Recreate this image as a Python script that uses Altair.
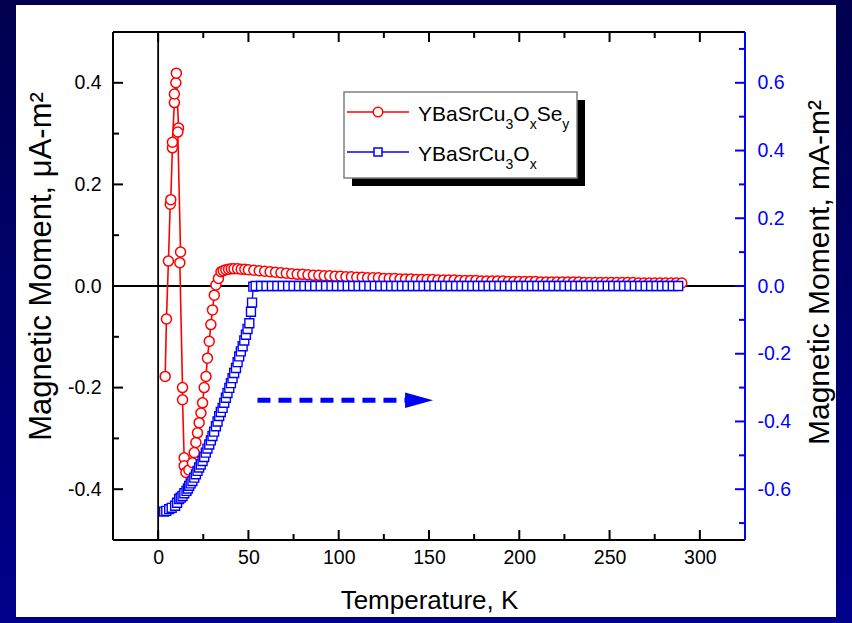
import altair as alt
import pandas as pd

# ---------------- data ----------------
# YBaSrCu3OxSey, left axis (uA-m^2), in measurement order
red_T = [3.9, 4.6, 5.7, 6.7, 7.0, 7.9, 7.9, 9.0, 9.0, 9.8,
         10.1, 11.3, 10.9, 12.4, 12.0, 13.5, 13.5, 14.4, 14.4, 15.4,
         17.0, 19.0, 20.0, 20.9, 21.8, 22.7, 23.7, 24.6, 25.5, 26.5,
         27.3, 28.3, 29.2, 30.1, 31.1, 32.0, 33.4, 34.8, 36.0, 37.5,
         39.0, 40.5, 42.0, 44.0, 46.0, 48.0, 50.0,
         53, 56, 59, 62, 65, 68, 71, 74, 77, 80,
         83, 86, 89, 92, 95, 98, 101, 104, 107, 110,
         113, 116, 119, 122, 125, 128, 131, 134, 137, 140,
         143, 146, 149, 152, 155, 158, 161, 164, 167, 170,
         173, 176, 179, 182, 185, 188, 191, 194, 197, 200,
         203, 206, 209, 212, 215, 218, 221, 224, 227, 230,
         233, 236, 239, 242, 245, 248, 251, 254, 257, 260,
         263, 266, 269, 272, 275, 278, 281, 284, 287, 290]
red_M = [-0.178, -0.065, 0.049, 0.161, 0.170, 0.272, 0.283, 0.361, 0.378, 0.400,
         0.419, 0.311, 0.303, 0.067, 0.046, -0.200, -0.224, -0.338, -0.354, -0.367,
         -0.362, -0.348, -0.328, -0.308, -0.289, -0.269, -0.250, -0.230, -0.200, -0.178,
         -0.142, -0.109, -0.076, -0.047, -0.018, 0.002, 0.015, 0.028, 0.030, 0.032,
         0.033, 0.034, 0.034, 0.034, 0.033, 0.033, 0.032,
         0.031, 0.030, 0.029, 0.028, 0.027, 0.026, 0.025, 0.024, 0.023, 0.023,
         0.022, 0.021, 0.021, 0.020, 0.020, 0.019, 0.019, 0.018, 0.018, 0.017,
         0.017, 0.016, 0.016, 0.016, 0.015, 0.015, 0.015, 0.014, 0.014, 0.014,
         0.013, 0.013, 0.013, 0.013, 0.012, 0.012, 0.012, 0.012, 0.011, 0.011,
         0.011, 0.011, 0.010, 0.010, 0.010, 0.010, 0.010, 0.009, 0.009, 0.009,
         0.009, 0.009, 0.009, 0.008, 0.008, 0.008, 0.008, 0.008, 0.008, 0.008,
         0.008, 0.007, 0.007, 0.007, 0.007, 0.007, 0.007, 0.007, 0.007, 0.007,
         0.007, 0.006, 0.006, 0.006, 0.006, 0.006, 0.006, 0.006, 0.006, 0.006]

# YBaSrCu3Ox, right axis (mA-m^2)
blue_T = [3.3, 4.5, 6.1, 7.5, 9.4, 10.5, 11.6, 12.5, 13.5, 14.5,
          15.7, 16.5, 17.2, 18.0, 19.0, 20.0, 20.9, 21.8, 22.7, 23.6,
          24.6, 25.5, 26.4, 27.3, 28.3, 29.2, 30.1, 31.0, 32.0, 32.9,
          33.8, 34.7, 35.7, 36.6, 37.5, 38.4, 39.4, 40.3, 41.2, 42.1,
          43.1, 44.0, 44.9, 45.8, 46.8, 47.7, 48.6, 49.5, 50.5, 51.4,
          52.0, 52.7,
          54, 57, 60, 63, 66, 69, 72, 75, 78, 81,
          84, 87, 90, 93, 96, 99, 102, 105, 108, 111,
          114, 117, 120, 123, 126, 129, 132, 135, 138, 141,
          144, 147, 150, 153, 156, 159, 162, 165, 168, 171,
          174, 177, 180, 183, 186, 189, 192, 195, 198, 201,
          204, 207, 210, 213, 216, 219, 222, 225, 228, 231,
          234, 237, 240, 243, 246, 249, 252, 255, 258, 261,
          264, 267, 270, 273, 276, 279, 282, 285, 288]
blue_M = [-0.666, -0.664, -0.659, -0.655, -0.649, -0.640, -0.629, -0.625, -0.620, -0.612,
          -0.605, -0.598, -0.590, -0.583, -0.576, -0.566, -0.556, -0.546, -0.536, -0.527,
          -0.517, -0.505, -0.492, -0.480, -0.468, -0.456, -0.443, -0.430, -0.414, -0.400,
          -0.384, -0.372, -0.360, -0.345, -0.330, -0.316, -0.301, -0.287, -0.272, -0.257,
          -0.242, -0.225, -0.208, -0.193, -0.178, -0.161, -0.144, -0.127, -0.110, -0.076,
          -0.049, -0.002,
          0.0, 0.0, 0.0, 0.0, 0.0, 0.0, 0.0, 0.0, 0.0, 0.0,
          0.0, 0.0, 0.0, 0.0, 0.0, 0.0, 0.0, 0.0, 0.0, 0.0,
          0.0, 0.0, 0.0, 0.0, 0.0, 0.0, 0.0, 0.0, 0.0, 0.0,
          0.0, 0.0, 0.0, 0.0, 0.0, 0.0, 0.0, 0.0, 0.0, 0.0,
          0.0, 0.0, 0.0, 0.0, 0.0, 0.0, 0.0, 0.0, 0.0, 0.0,
          0.0, 0.0, 0.0, 0.0, 0.0, 0.0, 0.0, 0.0, 0.0, 0.0,
          0.0, 0.0, 0.0, 0.0, 0.0, 0.0, 0.0, 0.0, 0.0, 0.0,
          0.0, 0.0, 0.0, 0.0, 0.0, 0.0, 0.0, 0.0, 0.0]

x_major = [0, 50, 100, 150, 200, 250, 300]
x_minor = [25, 75, 125, 175, 225, 275]
yl_major = [-0.4, -0.2, 0.0, 0.2, 0.4]
yl_minor = [-0.3, -0.1, 0.1, 0.3]
yr_major = [-0.6, -0.4, -0.2, 0.0, 0.2, 0.4, 0.6]
yr_minor = [-0.7, -0.5, -0.3, -0.1, 0.1, 0.3, 0.5, 0.7]

arrow_T = [55, 142]
arrow_head_T = [144.5]
arrow_M = [-0.225]

name_red = [("YBaSrCu", 0), ("3", 1), ("O", 0), ("x", 1), ("Se", 0), ("y", 1)]
name_blue = [("YBaSrCu", 0), ("3", 1), ("O", 0), ("x", 1)]

# ---------------- layout ----------------
W, H = 632, 508
PL, PT, PR, PB = 113, 32, 107, 83
FONT = "Liberation Sans"
RED = "#ff0000"
BLUE = "#0000ff"

red_df = pd.DataFrame({"T": red_T, "M": red_M, "i": range(len(red_T))})
blue_df = pd.DataFrame({"T": blue_T, "M": blue_M, "i": range(len(blue_T))})
one = pd.DataFrame({"a": [0]})

xs = alt.Scale(domain=[-25, 325], nice=False, zero=False)
ysl = alt.Scale(domain=[-0.5, 0.5], nice=False, zero=False)
ysr = alt.Scale(domain=[-0.75, 0.75], nice=False, zero=False)

lab_expr = "replace(format(datum.value, '.1f'), '\u2212', '-')"

xaxis = alt.Axis(values=x_major, title="Temperature, K", domain=False, ticks=False,
                 grid=False, labelFontSize=19.5, labelPadding=8, titleFontSize=26,
                 titlePadding=21, labelColor="black", titleColor="black",
                 labelFont=FONT, titleFont=FONT, titleFontWeight="normal",
                 labelFlush=False, labelOverlap=False, zindex=1)
ylaxis = alt.Axis(values=yl_major, labelExpr=lab_expr, title="Magnetic Moment, \u03bcA-m\u00b2",
                  domain=False, ticks=False, grid=False, labelFontSize=19.5, labelPadding=12,
                  titleFontSize=31, titlePadding=10, titleY=234,
                  labelColor="black", titleColor="black",
                  labelFont=FONT, titleFont=FONT, titleFontWeight="normal",
                  labelFlush=False, labelOverlap=False, zindex=1)
yraxis = alt.Axis(orient="right", values=yr_major, labelExpr=lab_expr,
                  title="Magnetic Moment, mA-m\u00b2", titleAngle=270, titleBaseline="top",
                  domain=False, ticks=False, grid=False, labelFontSize=19.5, labelPadding=12,
                  titleFontSize=30, titlePadding=14, titleY=240,
                  labelColor=BLUE, titleColor="black",
                  labelFont=FONT, titleFont=FONT, titleFontWeight="normal",
                  labelFlush=False, labelOverlap=False, zindex=1)


def X(f="T"):
    return alt.X(f"{f}:Q", scale=xs, axis=xaxis)


def YL(f="M"):
    return alt.Y(f"{f}:Q", scale=ysl, axis=ylaxis)


def YR(f="M"):
    return alt.Y(f"{f}:Q", scale=ysr, axis=yraxis)


def vals(lst, col):
    return pd.DataFrame({col: lst})


# background: navy gradient + white panel
bg = alt.Chart(one).mark_rect(
    color=alt.LinearGradient(gradient="linear",
                             stops=[alt.GradientStop(color="#00004e", offset=0),
                                    alt.GradientStop(color="#00008c", offset=1)],
                             x1=0, x2=0, y1=0, y2=1)
).encode(x=alt.value(-PL), x2=alt.value(W + PR), y=alt.value(-PT), y2=alt.value(H + PB))
panel = alt.Chart(one).mark_rect(color="white").encode(
    x=alt.value(16 - PL), x2=alt.value(836 - PL), y=alt.value(5 - PT), y2=alt.value(617 - PT))

# zero lines
hzero = alt.Chart(vals([0.0], "M")).mark_rule(color="black", strokeWidth=1.8).encode(
    y=YL(), x=alt.value(0), x2=alt.value(W))
vzero = alt.Chart(vals([0.0], "T")).mark_rule(color="black", strokeWidth=1.8).encode(
    x=X(), y=alt.value(0), y2=alt.value(H))

# frame
frame_l = alt.Chart(one).mark_rule(color="black", strokeWidth=2).encode(
    x=alt.value(0), y=alt.value(0), y2=alt.value(H))
frame_t = alt.Chart(one).mark_rule(color="black", strokeWidth=2).encode(
    y=alt.value(0), x=alt.value(0), x2=alt.value(W))
frame_b = alt.Chart(one).mark_rule(color="black", strokeWidth=2).encode(
    y=alt.value(H), x=alt.value(0), x2=alt.value(W))


# ticks (inward)
def xticks(lst, ln):
    b = alt.Chart(vals(lst, "T")).mark_rule(color="black", strokeWidth=2).encode(
        x=X(), y=alt.value(H), y2=alt.value(H - ln))
    t = alt.Chart(vals(lst, "T")).mark_rule(color="black", strokeWidth=2).encode(
        x=X(), y=alt.value(0), y2=alt.value(ln))
    return [b, t]


def ylticks(lst, ln):
    return [alt.Chart(vals(lst, "M")).mark_rule(color="black", strokeWidth=2).encode(
        y=YL(), x=alt.value(0), x2=alt.value(ln))]


def yrticks(lst, ln):
    return [alt.Chart(vals(lst, "M")).mark_rule(color=BLUE, strokeWidth=2).encode(
        y=YR(), x=alt.value(W), x2=alt.value(W - ln))]


# red series
red_line = alt.Chart(red_df).mark_line(color=RED, strokeWidth=1.6).encode(
    x=X(), y=YL(), order=alt.Order("i:Q"))
red_pts = alt.Chart(red_df).mark_point(shape="circle", size=100, color=RED, fill="white",
                                        filled=False, opacity=1, strokeWidth=1.5).encode(
    x=X(), y=YL())

# blue series
blue_line = alt.Chart(blue_df).mark_line(color=BLUE, strokeWidth=1.3).encode(
    x=X(), y=YR(), order=alt.Order("i:Q"))
blue_pts = alt.Chart(blue_df).mark_point(shape="square", size=80, color=BLUE, fill="white",
                                          filled=False, opacity=1, strokeWidth=1.4).encode(
    x=X(), y=YR())
frame_r = alt.Chart(one).mark_rule(color=BLUE, strokeWidth=2).encode(
    x=alt.value(W), y=alt.value(0), y2=alt.value(H))

# arrow (left-axis coordinates)
arrow_df = pd.DataFrame({"T": [arrow_T[0]], "T2": [arrow_T[1]], "M": arrow_M})
arrow = alt.Chart(arrow_df).mark_rule(color=BLUE, strokeWidth=5, strokeDash=[13, 8]).encode(
    x=X(), x2="T2:Q", y=YL())
head_df = pd.DataFrame({"T": arrow_head_T, "M": arrow_M})
head = alt.Chart(head_df).mark_point(shape="M -1 -0.55 L 1 0 L -1 0.55 Z", size=784,
                                      filled=True, color=BLUE, opacity=1).encode(x=X(), y=YL())

# legend (drawn by hand)
LX0, LY0, LX1, LY1 = 231, 60, 464, 146
leg = []
leg.append(alt.Chart(one).mark_rect(color="black").encode(
    x=alt.value(LX0 + 8), x2=alt.value(LX1 + 8), y=alt.value(LY0 + 8), y2=alt.value(LY1 + 8)))
leg.append(alt.Chart(one).mark_rect(fill="white", stroke="#808080", strokeWidth=1.5).encode(
    x=alt.value(LX0), x2=alt.value(LX1), y=alt.value(LY0), y2=alt.value(LY1)))
for yy, col, shp, sz in [(80, RED, "circle", 90), (120, BLUE, "square", 64)]:
    leg.append(alt.Chart(one).mark_rule(color=col, strokeWidth=1.6).encode(
        x=alt.value(234), x2=alt.value(296), y=alt.value(yy)))
    leg.append(alt.Chart(one).mark_point(shape=shp, size=sz, color=col, fill="white",
                                         filled=False, opacity=1, strokeWidth=1.5).encode(
        x=alt.value(265), y=alt.value(yy)))

# Arial / Liberation Sans advance widths (per 1000 em)
AW = {"Y": 667, "B": 667, "a": 556, "S": 667, "r": 333, "C": 722, "u": 556,
      "O": 778, "e": 556, "3": 556, "x": 500, "y": 500}
FS_MAIN, FS_SUB = 21, 14
for pieces, base in [(name_red, 89), (name_blue, 129)]:
    cx = 305
    for txt, sub in pieces:
        fs = FS_SUB if sub else FS_MAIN
        leg.append(alt.Chart(one).mark_text(text=txt, font=FONT, fontSize=fs, align="left",
                                            baseline="alphabetic", color="black").encode(
            x=alt.value(cx), y=alt.value(base + (8 if sub else 0))))
        cx += sum(AW[c] for c in txt) * fs / 1000.0

left = alt.layer(
    bg, panel, hzero, vzero, frame_l, frame_t, frame_b,
    *xticks(x_major, 10), *xticks(x_minor, 6),
    *ylticks(yl_major, 10), *ylticks(yl_minor, 6),
    red_line, red_pts, *leg, arrow, head,
)
right = alt.layer(
    *yrticks(yr_major, 10), *yrticks(yr_minor, 6), frame_r, blue_line, blue_pts,
)

chart = alt.layer(left, right).resolve_scale(y="independent").properties(
    width=W, height=H,
    padding={"left": PL, "top": PT, "right": PR, "bottom": PB},
    autosize=alt.AutoSizeParams(type="none"),
    background="#00006a",
).configure_view(stroke=None)

chart.save("out.html", embed_options={"renderer": "svg", "actions": False})
